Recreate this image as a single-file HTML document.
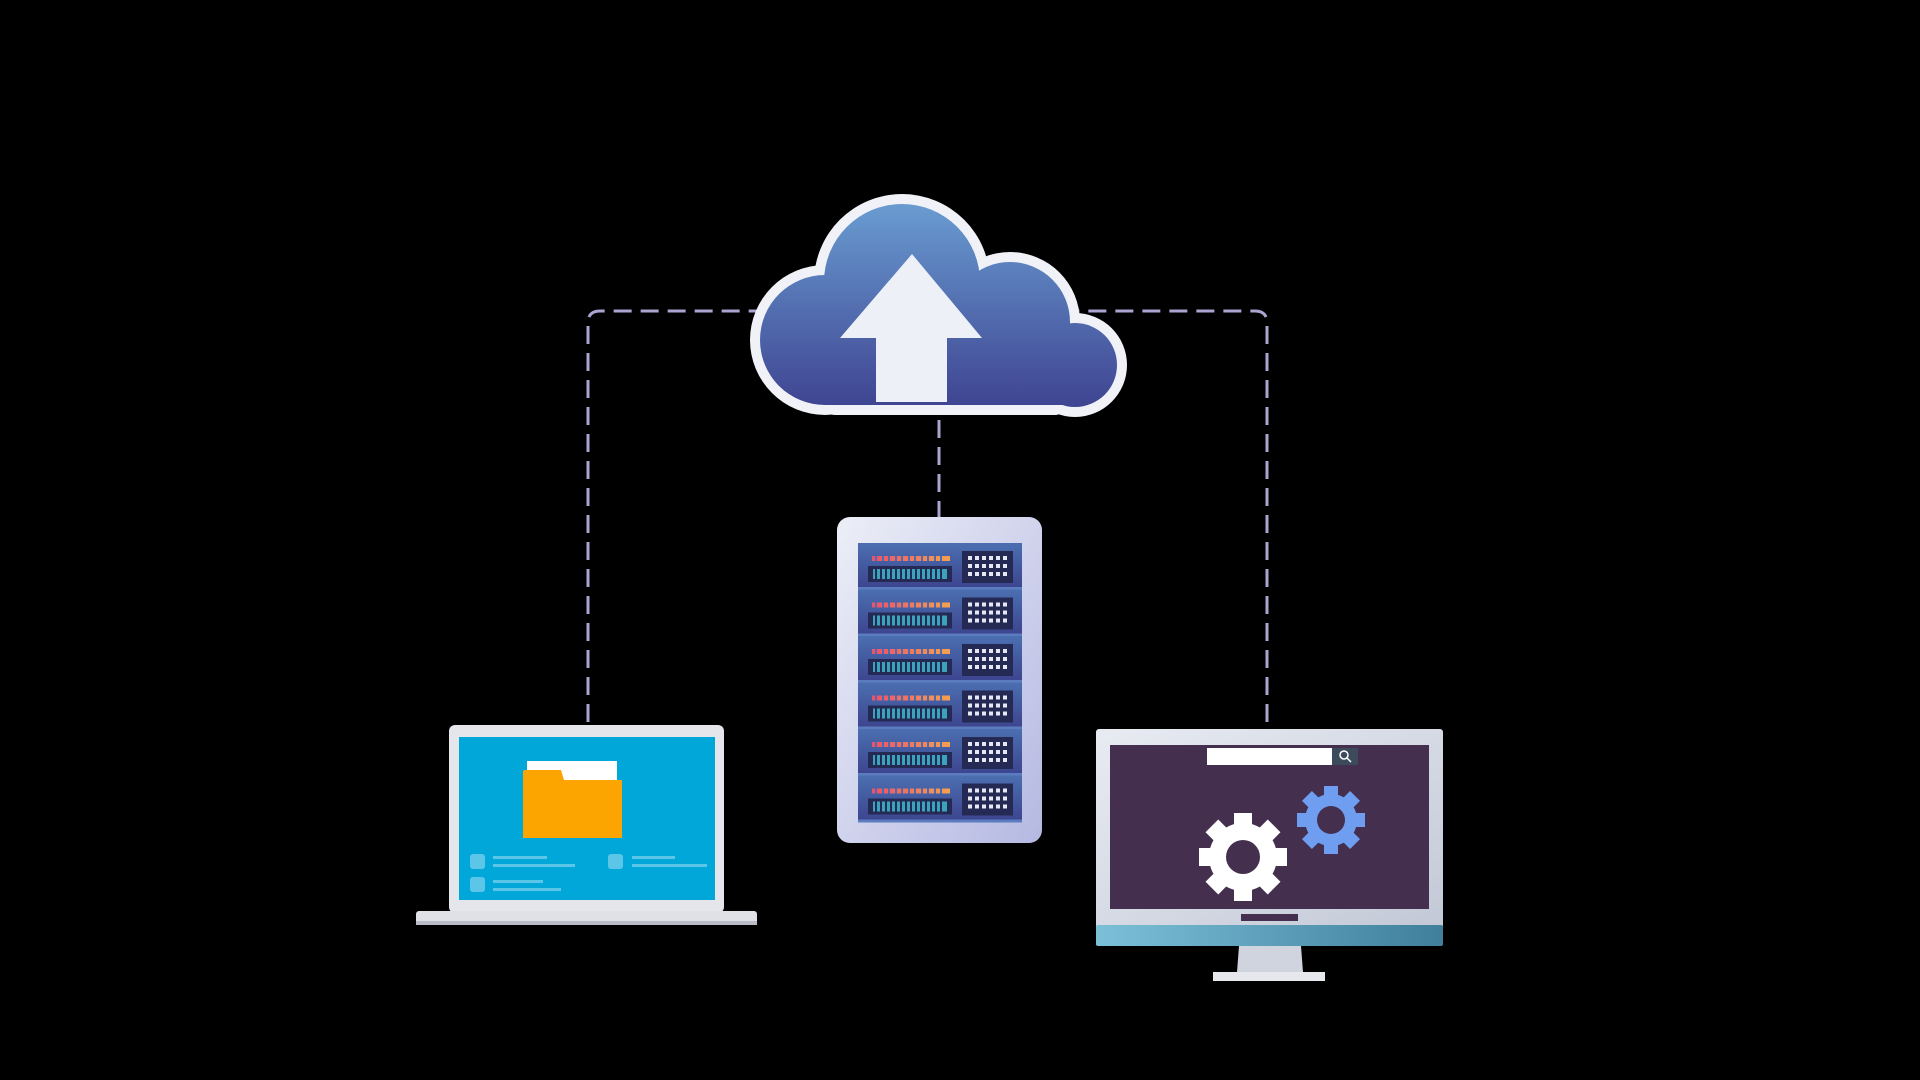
<!DOCTYPE html>
<html><head><meta charset="utf-8"><style>html,body{margin:0;padding:0;background:#000;width:1920px;height:1080px;overflow:hidden}</style></head>
<body>
<svg width="1920" height="1080" viewBox="0 0 1920 1080" xmlns="http://www.w3.org/2000/svg">
<defs>
<linearGradient id="cg" gradientUnits="userSpaceOnUse" x1="0" y1="200" x2="0" y2="405"><stop offset="0" stop-color="#6a9dd2"/><stop offset="1" stop-color="#3f4592"/></linearGradient>
<linearGradient id="sg" x1="0" y1="0" x2="1" y2="1"><stop offset="0" stop-color="#eceef7"/><stop offset="1" stop-color="#b5b9e2"/></linearGradient>
<linearGradient id="ug" x1="0" y1="0" x2="0" y2="1"><stop offset="0" stop-color="#4b6fb0"/><stop offset="1" stop-color="#3d4690"/></linearGradient>
<linearGradient id="led" x1="0" y1="0" x2="1" y2="0"><stop offset="0" stop-color="#f0506a"/><stop offset="1" stop-color="#f5a050"/></linearGradient>
<linearGradient id="tb" x1="0" y1="0" x2="1" y2="0"><stop offset="0" stop-color="#7cc0d8"/><stop offset="1" stop-color="#3f7f9c"/></linearGradient>
<linearGradient id="mg" x1="0" y1="0" x2="1" y2="1"><stop offset="0" stop-color="#e8ebf2"/><stop offset="1" stop-color="#c2c8d6"/></linearGradient>
</defs>
<g fill="none" stroke="#a9a4d0" stroke-width="3" stroke-dasharray="18 9">
<path d="M588 722 V323 Q588 311 600 311 H770"/>
<path d="M1267 722 V323 Q1267 311 1255 311 H1070"/>
<path d="M939 420 V517"/>
</g>
<g fill="#f0f2f8">
<circle cx="825" cy="340" r="75"/><circle cx="902" cy="282" r="88"/><circle cx="1010" cy="322" r="70"/><circle cx="1075" cy="365" r="52"/>
<rect x="825" y="310" width="240" height="105" rx="10"/>
</g>
<g fill="url(#cg)">
<circle cx="825" cy="340" r="65"/><circle cx="902" cy="282" r="78"/><circle cx="1010" cy="322" r="60"/><circle cx="1075" cy="365" r="42"/>
<rect x="825" y="310" width="240" height="95"/>
</g>
<path d="M912 254 L982 338 L947 338 L947 402 L876 402 L876 338 L840 338 Z" fill="#eef0f7"/>
<rect x="837" y="517" width="205" height="326" rx="13" fill="url(#sg)"/>
<rect x="858" y="543" width="164" height="279" fill="#3b4585"/>
<g id="u">
<rect x="858" y="543" width="164" height="44" fill="url(#ug)"/>
<rect x="858" y="587" width="164" height="3" fill="#5c7cc0"/>
<g fill="url(#led)"><rect x="872" y="556" width="78" height="5"/></g>
<g fill="#4a6cb0"><rect x="875" y="556" width="2" height="5"/><rect x="882" y="556" width="2" height="5"/><rect x="888" y="556" width="2" height="5"/><rect x="895" y="556" width="2" height="5"/><rect x="901" y="556" width="2" height="5"/><rect x="908" y="556" width="2" height="5"/><rect x="914" y="556" width="2" height="5"/><rect x="921" y="556" width="2" height="5"/><rect x="927" y="556" width="2" height="5"/><rect x="934" y="556" width="2" height="5"/><rect x="940" y="556" width="2" height="5"/></g>
<rect x="868" y="566" width="84" height="16" fill="#252a55"/>
<rect x="873" y="569" width="74" height="10" fill="#3fb0c8" opacity="0.9"/>
<g fill="#252a55"><rect x="875" y="569" width="2" height="10"/><rect x="880" y="569" width="2" height="10"/><rect x="885" y="569" width="2" height="10"/><rect x="890" y="569" width="2" height="10"/><rect x="895" y="569" width="2" height="10"/><rect x="900" y="569" width="2" height="10"/><rect x="905" y="569" width="2" height="10"/><rect x="910" y="569" width="2" height="10"/><rect x="915" y="569" width="2" height="10"/><rect x="920" y="569" width="2" height="10"/><rect x="925" y="569" width="2" height="10"/><rect x="930" y="569" width="2" height="10"/><rect x="935" y="569" width="2" height="10"/><rect x="940" y="569" width="2" height="10"/></g>
<rect x="962" y="551" width="51" height="32" fill="#252a55"/>
<g fill="#e6e8f5"><rect x="968" y="556" width="4" height="4"/><rect x="975" y="556" width="4" height="4"/><rect x="982" y="556" width="4" height="4"/><rect x="989" y="556" width="4" height="4"/><rect x="996" y="556" width="4" height="4"/><rect x="1003" y="556" width="4" height="4"/>
<rect x="968" y="564" width="4" height="4"/><rect x="975" y="564" width="4" height="4"/><rect x="982" y="564" width="4" height="4"/><rect x="989" y="564" width="4" height="4"/><rect x="996" y="564" width="4" height="4"/><rect x="1003" y="564" width="4" height="4"/>
<rect x="968" y="572" width="4" height="4"/><rect x="975" y="572" width="4" height="4"/><rect x="982" y="572" width="4" height="4"/><rect x="989" y="572" width="4" height="4"/><rect x="996" y="572" width="4" height="4"/><rect x="1003" y="572" width="4" height="4"/></g>
</g>
<use href="#u" y="46.5"/><use href="#u" y="93"/><use href="#u" y="139.5"/><use href="#u" y="186"/><use href="#u" y="232.5"/>
<rect x="449" y="725" width="275" height="188" rx="6" fill="#e4e6ec"/>
<rect x="459" y="737" width="256" height="163" fill="#02a7d9"/>
<rect x="416" y="911" width="341" height="14" rx="3" fill="#dfe1e7"/>
<rect x="416" y="921" width="341" height="4" fill="#b9bcc6"/>
<rect x="527" y="761" width="90" height="22" fill="#fff"/>
<path d="M523 772 Q523 770 525 770 L561 770 L564 780 L622 780 L622 838 L523 838 Z" fill="#fca400"/>
<g fill="#5cc6e8"><rect x="470" y="854" width="15" height="15" rx="3"/><rect x="470" y="877" width="15" height="15" rx="3"/><rect x="608" y="854" width="15" height="15" rx="3"/>
<rect x="493" y="856" width="54" height="3"/><rect x="493" y="864" width="82" height="3"/><rect x="493" y="880" width="50" height="3"/><rect x="493" y="888" width="68" height="3"/><rect x="632" y="856" width="43" height="3"/><rect x="632" y="864" width="75" height="3"/></g>
<rect x="1096" y="729" width="347" height="205" rx="3" fill="url(#mg)"/>
<rect x="1096" y="925" width="347" height="21" rx="2" fill="url(#tb)"/>
<rect x="1110" y="745" width="319" height="164" fill="#452f4e"/>
<rect x="1207" y="748" width="125" height="17" fill="#fff"/>
<rect x="1332" y="748" width="26" height="17" fill="#3d4a5c"/>
<circle cx="1344" cy="755" r="4" fill="none" stroke="#fff" stroke-width="1.5"/><path d="M1347 758 L1351 762" stroke="#fff" stroke-width="1.5"/>
<rect x="1241" y="914" width="57" height="7" fill="#452f4e"/>
<path d="M1239 946 L1301 946 L1303 972 L1237 972 Z" fill="#cfd4de"/>
<rect x="1213" y="972" width="112" height="9" fill="#e6e8ee"/>
<g fill="#fff" transform="translate(1243 857)">
<circle r="34"/>
<g><rect x="-9" y="-44" width="18" height="88"/><rect x="-9" y="-44" width="18" height="88" transform="rotate(45)"/><rect x="-9" y="-44" width="18" height="88" transform="rotate(90)"/><rect x="-9" y="-44" width="18" height="88" transform="rotate(135)"/></g>
<circle r="17" fill="#452f4e"/>
</g>
<g fill="#6f9ef0" transform="translate(1331 820)">
<circle r="26"/>
<g><rect x="-7" y="-34" width="14" height="68"/><rect x="-7" y="-34" width="14" height="68" transform="rotate(45)"/><rect x="-7" y="-34" width="14" height="68" transform="rotate(90)"/><rect x="-7" y="-34" width="14" height="68" transform="rotate(135)"/></g>
<circle r="14" fill="#452f4e"/>
</g>
</svg>
</body></html>
